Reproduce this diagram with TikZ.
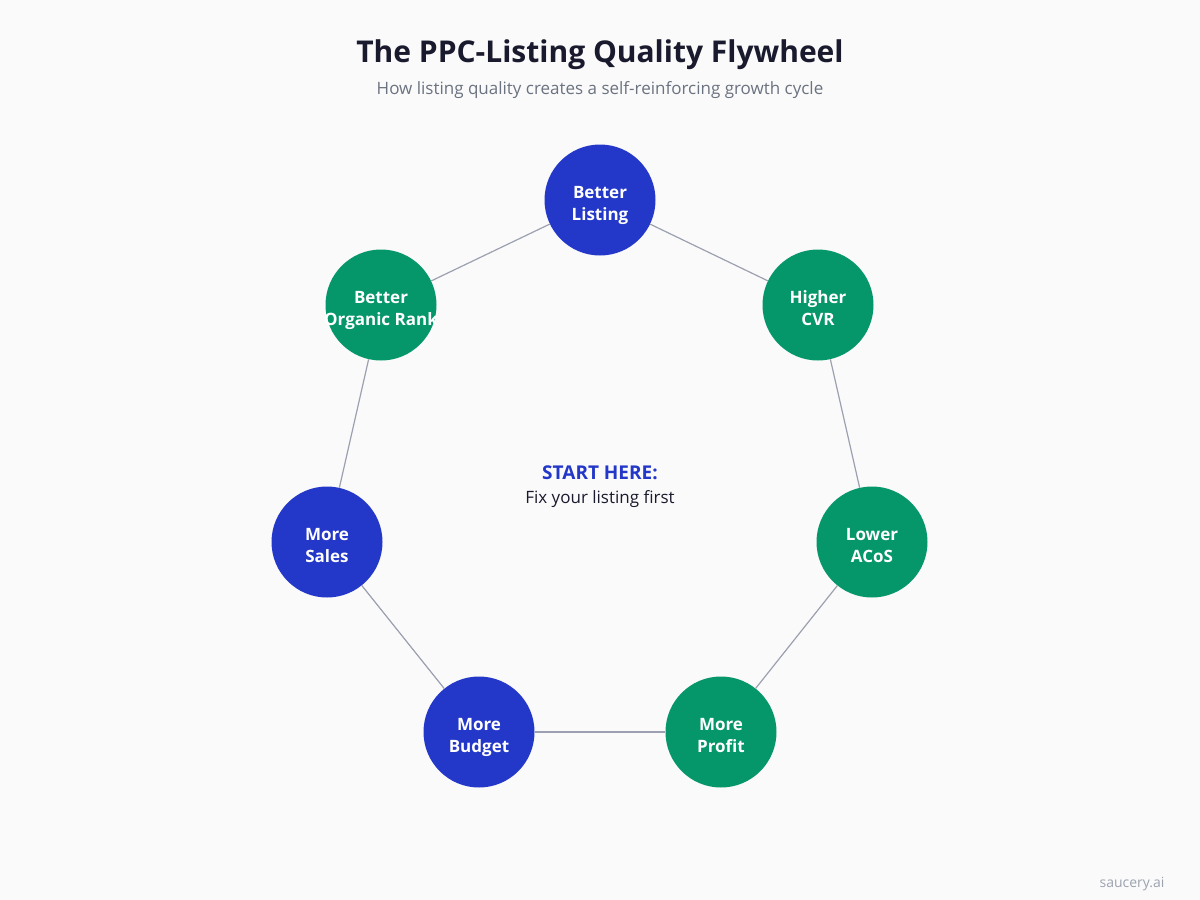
\documentclass[tikz,border=0pt]{standalone}
\usepackage{fontspec}
\setmainfont{Open Sans}
\definecolor{bg}{HTML}{FAFAFA}
\definecolor{bluec}{HTML}{2337C8}
\definecolor{greenc}{HTML}{059669}
\definecolor{titlec}{HTML}{1A1A2E}
\definecolor{subc}{HTML}{6B7280}
\definecolor{linec}{HTML}{9CA0B0}
\definecolor{markc}{HTML}{9CA3AF}
\newcommand{\twolines}[2]{\makebox[0pt]{\rule{0pt}{18.5pt}#1}\\\makebox[0pt]{#2}}
\begin{document}
\begin{tikzpicture}[x=1pt,y=-1pt,
  stage/.style={circle,minimum size=111pt,inner sep=0pt,text=white,
    font=\fontsize{17}{22}\selectfont\bfseries,align=center,text depth=0pt},
  bstage/.style={stage,fill=bluec},
  gstage/.style={stage,fill=greenc},
  link/.style={draw=linec,line width=1.2pt}]
\fill[bg] (0,0) rectangle (1200,900);
\useasboundingbox (0,0) rectangle (1200,900);
\node[font=\fontsize{30}{34}\selectfont\bfseries,text=titlec] (title) at (600,55) {The PPC-Listing Quality Flywheel};
\node[font=\fontsize{17}{20}\selectfont,text=subc] (sub) at (600,90) {How listing quality creates a self-reinforcing growth cycle};
\node[bstage] (n1) at (600,200) {\twolines{Better}{Listing}};
\node[gstage] (n2) at (818,305) {\twolines{Higher}{CVR}};
\node[gstage] (n3) at (872,542) {\twolines{Lower}{ACoS}};
\node[gstage] (n4) at (721,732) {\twolines{More}{Profit}};
\node[bstage] (n5) at (479,732) {\twolines{More}{Budget}};
\node[bstage] (n6) at (327,542) {\twolines{More}{Sales}};
\node[gstage] (n7) at (381,305) {\twolines{Better}{Organic Rank}};
\node[font=\fontsize{19}{22}\selectfont\bfseries,text=bluec] (start) at (600,473) {START HERE:};
\node[font=\fontsize{17}{20}\selectfont,text=titlec] (fix) at (600,499) {Fix your listing first};
\node[font=\fontsize{14}{18}\selectfont,text=markc,anchor=east] (mark) at (1168,884) {saucery.ai};
\draw[link] (n1) -- (n2);
\draw[link] (n2) -- (n3);
\draw[link] (n3) -- (n4);
\draw[link] (n4) -- (n5);
\draw[link] (n5) -- (n6);
\draw[link] (n6) -- (n7);
\draw[link] (n7) -- (n1);
\end{tikzpicture}
\end{document}
